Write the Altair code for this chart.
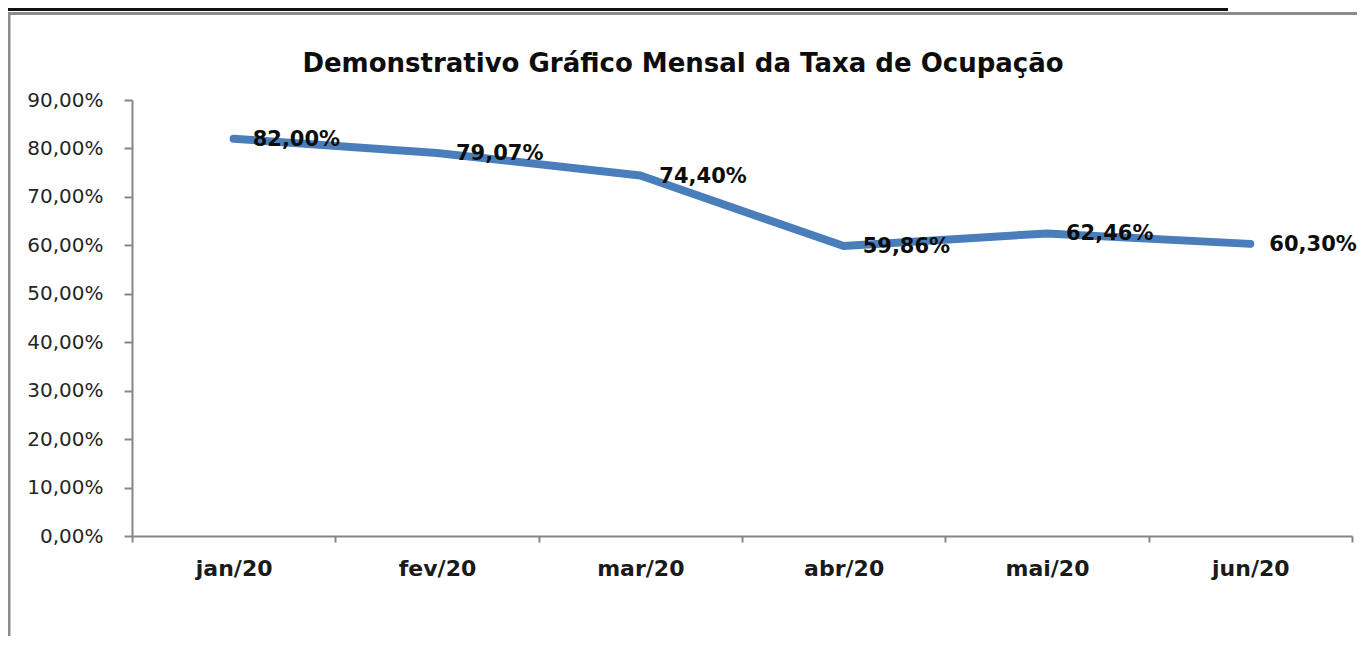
import altair as alt
import pandas as pd

months = ["jan/20", "fev/20", "mar/20", "abr/20", "mai/20", "jun/20"]
rates = [0.8200, 0.7907, 0.7440, 0.5986, 0.6246, 0.6030]
labels = ["82,00%", "79,07%", "74,40%", "59,86%", "62,46%", "60,30%"]
title_text = ["Demonstrativo Gráfico Mensal da Taxa de Ocupação"]

df = pd.DataFrame({"mes": months, "taxa": rates, "rotulo": labels})
df_title = pd.DataFrame({"t": title_text})

W, H = 1220, 436
PL, PT, PR, PB = 124, 92, 5, 100

FONT = "DejaVu Sans"
AXIS_GRAY = "#868686"
LINE_BLUE = "#4a7ebb"

x_enc = alt.X(
    "mes:N",
    sort=months,
    bandPosition=0.5,
    scale=alt.Scale(type="band", paddingInner=0, paddingOuter=0),
    axis=alt.Axis(
        title=None,
        tickBand="extent",
        domainColor=AXIS_GRAY,
        domainWidth=2,
        tickColor=AXIS_GRAY,
        tickWidth=2,
        tickSize=6,
        labelFont=FONT,
        labelFontSize=22,
        labelFontWeight="bold",
        labelColor="#1a1a1a",
        labelPadding=16,
        labelAngle=0,
        grid=False,
    ),
)

y_enc = alt.Y(
    "taxa:Q",
    scale=alt.Scale(domain=[0, 0.9], nice=False, zero=True),
    axis=alt.Axis(
        title=None,
        values=[0, 0.1, 0.2, 0.3, 0.4, 0.5, 0.6, 0.7, 0.8, 0.9],
        labelExpr="replace(format(datum.value, '.2%'), '.', ',')",
        domainColor=AXIS_GRAY,
        domainWidth=2,
        tickColor=AXIS_GRAY,
        tickWidth=2,
        tickSize=8,
        labelFont=FONT,
        labelFontSize=20,
        labelColor="#262626",
        labelPadding=21,
        grid=False,
    ),
)

base = alt.Chart(df)

line = base.mark_line(
    color=LINE_BLUE, strokeWidth=8, strokeCap="round", strokeJoin="round"
).encode(x=x_enc, y=y_enc)

text = base.mark_text(
    align="left", baseline="middle", dx=19, dy=1,
    font=FONT, fontSize=21, fontWeight="bold", color="#0d0d0d",
).encode(x=alt.X("mes:N", sort=months, bandPosition=0.5), y="taxa:Q", text="rotulo:N")

title = alt.Chart(df_title).mark_text(
    align="center", baseline="middle",
    font=FONT, fontSize=26, fontWeight="bold", color="#0d0d0d",
).encode(x=alt.value(551), y=alt.value(-36), text="t:N")

# decorative frame: black top rule and gray border (outside plot area)
top_black = alt.Chart(df_title).mark_rule(color="#111111", strokeWidth=3).encode(
    x=alt.value(-PL), x2=alt.value(1096), y=alt.value(-PT + 1.5)
)
border_top = alt.Chart(df_title).mark_rule(color="#8c8c8c", strokeWidth=3).encode(
    x=alt.value(-PL + 1), x2=alt.value(W + PR + 2), y=alt.value(-PT + 5.5)
)
border_left = alt.Chart(df_title).mark_rule(color="#8c8c8c", strokeWidth=3).encode(
    x=alt.value(-PL + 1), y=alt.value(-PT + 4), y2=alt.value(H + PB)
)

chart = (
    alt.layer(top_black, border_top, border_left, line, text, title)
    .properties(
        width=W,
        height=H,
        autosize=alt.AutoSizeParams(type="none"),
        padding={"left": PL, "top": PT, "right": PR, "bottom": PB},
        view=alt.ViewBackground(strokeWidth=0, stroke="transparent"),
    )
    .configure_view(strokeWidth=0, stroke="transparent")
    .configure(background="white")
)

chart.save("out.html", embed_options={"renderer": "svg", "actions": False})
